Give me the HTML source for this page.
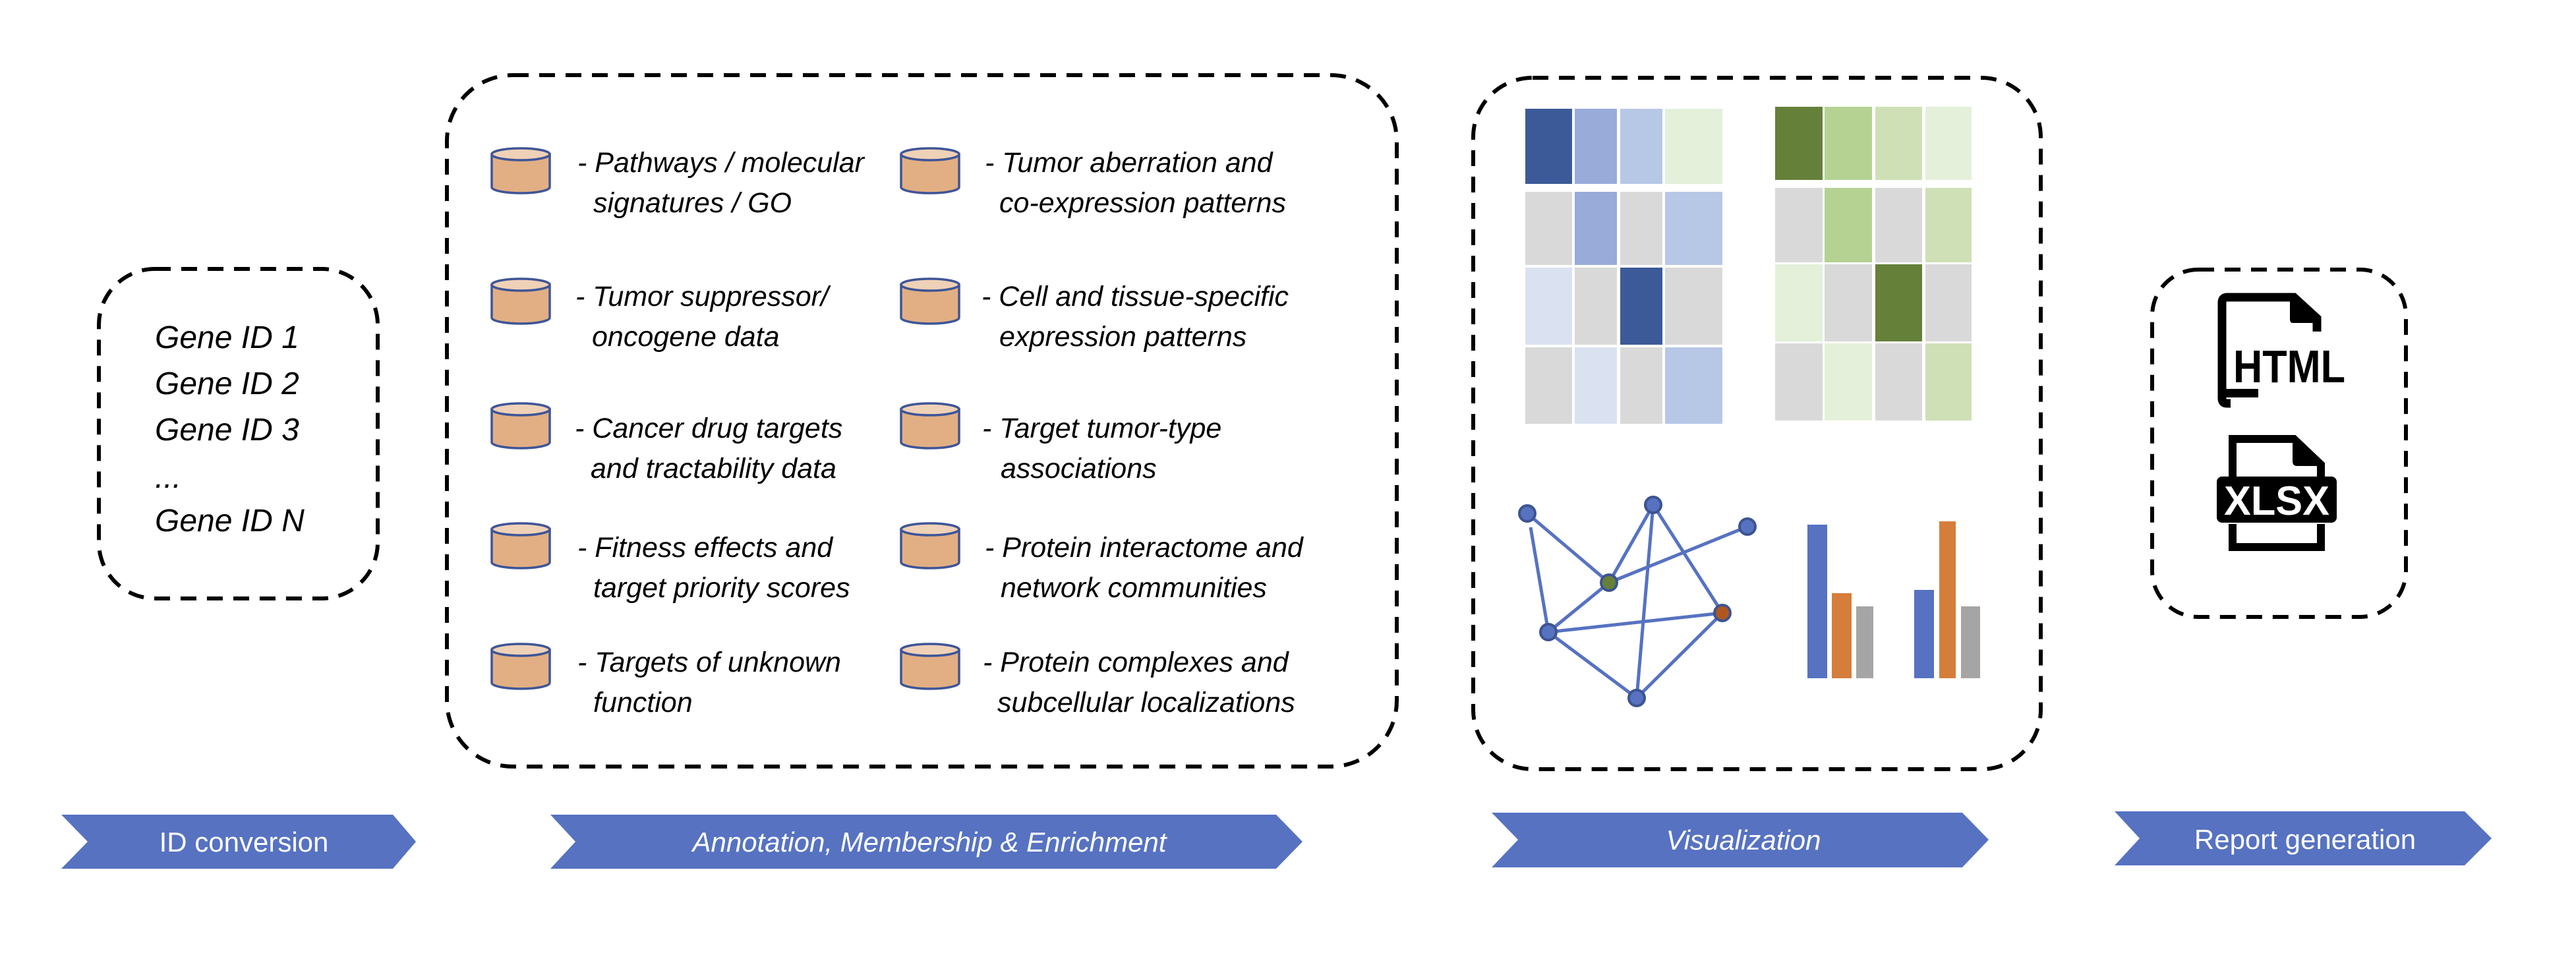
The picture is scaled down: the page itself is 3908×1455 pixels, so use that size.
<!DOCTYPE html>
<html><head><meta charset="utf-8"><style>
html,body{margin:0;padding:0;background:#fff;}
svg{display:block;}
text{font-family:"Liberation Sans",sans-serif;}
</style></head><body>
<svg width="3908" height="1455" viewBox="0 0 3908 1455" xmlns="http://www.w3.org/2000/svg">
<defs>
<g id="cyl">
<path d="M0,10 L0,60 A44,9 0 0 0 88,60 L88,10 Z" fill="#e2af84" stroke="#3f5597" stroke-width="3.5"/>
<ellipse cx="44" cy="10" rx="44" ry="9" fill="#efd1b7" stroke="#3f5597" stroke-width="3.5"/>
</g>
</defs>
<g fill="none" stroke="#000" stroke-width="6" stroke-dasharray="24 16">
<rect x="150" y="408" width="423" height="500" rx="85"/>
<rect x="678" y="114" width="1441" height="1049" rx="100"/>
<rect x="2235" y="118" width="861" height="1049" rx="90"/>
<rect x="3265" y="409" width="385" height="527" rx="70"/>
</g>
<g font-style="italic" font-size="48" fill="#000">
<text x="235" y="528">Gene ID 1</text>
<text x="235" y="598">Gene ID 2</text>
<text x="235" y="668">Gene ID 3</text>
<text x="235" y="740">...</text>
<text x="235" y="806">Gene ID N</text>
</g>
<use href="#cyl" x="746" y="224"/><use href="#cyl" x="746" y="422"/><use href="#cyl" x="746" y="611"/><use href="#cyl" x="746" y="793"/><use href="#cyl" x="746" y="976"/>
<use href="#cyl" x="1367" y="224"/><use href="#cyl" x="1367" y="422"/><use href="#cyl" x="1367" y="611"/><use href="#cyl" x="1367" y="793"/><use href="#cyl" x="1367" y="976"/>
<g font-style="italic" font-size="43" fill="#000">
<text x="876" y="261">- Pathways / molecular</text><text x="900" y="322">signatures / GO</text>
<text x="873" y="464">- Tumor suppressor/</text><text x="898" y="525">oncogene data</text>
<text x="872" y="664">- Cancer drug targets</text><text x="896" y="725">and tractability data</text>
<text x="876" y="845">- Fitness effects and</text><text x="900" y="906">target priority scores</text>
<text x="876" y="1019">- Targets of unknown</text><text x="900" y="1080">function</text>
<text x="1494" y="261">- Tumor aberration and</text><text x="1516" y="322">co-expression patterns</text>
<text x="1489" y="464">- Cell and tissue-specific</text><text x="1516" y="525">expression patterns</text>
<text x="1490" y="664">- Target tumor-type</text><text x="1518" y="725">associations</text>
<text x="1494" y="845">- Protein interactome and</text><text x="1518" y="906">network communities</text>
<text x="1491" y="1019">- Protein complexes and</text><text x="1513" y="1080">subcellular localizations</text>
</g>
<g>
<rect x="2314" y="165" width="71" height="114" fill="#3d5a98"/><rect x="2389" y="165" width="64" height="114" fill="#98abd9"/><rect x="2458" y="165" width="64" height="114" fill="#b7c7e6"/><rect x="2526" y="165" width="87" height="114" fill="#e4f0da"/>
<rect x="2314" y="291" width="71" height="111" fill="#d9d9d9"/><rect x="2389" y="291" width="64" height="111" fill="#98abd9"/><rect x="2458" y="291" width="64" height="111" fill="#d9d9d9"/><rect x="2526" y="291" width="87" height="111" fill="#b7c7e6"/>
<rect x="2314" y="406" width="71" height="117" fill="#dae2f2"/><rect x="2389" y="406" width="64" height="117" fill="#d9d9d9"/><rect x="2458" y="406" width="64" height="117" fill="#3d5a98"/><rect x="2526" y="406" width="87" height="117" fill="#d9d9d9"/>
<rect x="2314" y="527" width="71" height="116" fill="#d9d9d9"/><rect x="2389" y="527" width="64" height="116" fill="#dae2f2"/><rect x="2458" y="527" width="64" height="116" fill="#d9d9d9"/><rect x="2526" y="527" width="87" height="116" fill="#b7c7e6"/>
</g>
<g>
<rect x="2693" y="162" width="72" height="111" fill="#658039"/><rect x="2768" y="162" width="72" height="111" fill="#b5d293"/><rect x="2845" y="162" width="71" height="111" fill="#cfe0b6"/><rect x="2921" y="162" width="70" height="111" fill="#e4f0da"/>
<rect x="2693" y="285" width="72" height="113" fill="#d9d9d9"/><rect x="2768" y="285" width="72" height="113" fill="#b5d293"/><rect x="2845" y="285" width="71" height="113" fill="#d9d9d9"/><rect x="2921" y="285" width="70" height="113" fill="#cfe0b6"/>
<rect x="2693" y="401" width="72" height="117" fill="#e4f0da"/><rect x="2768" y="401" width="72" height="117" fill="#d9d9d9"/><rect x="2845" y="401" width="71" height="117" fill="#658039"/><rect x="2921" y="401" width="70" height="117" fill="#d9d9d9"/>
<rect x="2693" y="521" width="72" height="117" fill="#d9d9d9"/><rect x="2768" y="521" width="72" height="117" fill="#e4f0da"/><rect x="2845" y="521" width="71" height="117" fill="#d9d9d9"/><rect x="2921" y="521" width="70" height="117" fill="#cfe0b6"/>
</g>
<g stroke="#5672c1" stroke-width="5">
<line x1="2317" y1="779" x2="2441" y2="884"/>
<line x1="2322" y1="800" x2="2349" y2="959"/>
<line x1="2508" y1="766" x2="2441" y2="884"/>
<line x1="2508" y1="766" x2="2483" y2="1059"/>
<line x1="2508" y1="766" x2="2613" y2="930"/>
<line x1="2651" y1="799" x2="2441" y2="884"/>
<line x1="2349" y1="959" x2="2441" y2="884"/>
<line x1="2349" y1="959" x2="2613" y2="930"/>
<line x1="2349" y1="959" x2="2483" y2="1059"/>
<line x1="2483" y1="1059" x2="2613" y2="930"/>
</g>
<g stroke="#3d5491" stroke-width="4">
<circle cx="2317" cy="779" r="12" fill="#5672c1"/>
<circle cx="2508" cy="766" r="12" fill="#5672c1"/>
<circle cx="2651" cy="799" r="12" fill="#5672c1"/>
<circle cx="2441" cy="884" r="12" fill="#658039"/>
<circle cx="2613" cy="930" r="12" fill="#b0571f"/>
<circle cx="2349" cy="959" r="12" fill="#5672c1"/>
<circle cx="2483" cy="1059" r="12" fill="#5672c1"/>
</g>
<rect x="2742" y="796" width="30" height="233" fill="#5672c1"/>
<rect x="2779" y="900" width="30" height="129" fill="#d57d3b"/>
<rect x="2816" y="920" width="26" height="109" fill="#a5a5a5"/>
<rect x="2904" y="895" width="30" height="134" fill="#5672c1"/>
<rect x="2942" y="791" width="25" height="238" fill="#d57d3b"/>
<rect x="2975" y="920" width="29" height="109" fill="#a5a5a5"/>
<path d="M3384,612 L3378,612 Q3371,612 3371,604 L3371,459 Q3371,451 3379,451 L3480,451 L3515,483 L3515,503" fill="none" stroke="#000" stroke-width="13"/>
<path d="M3474,449 L3518,490 L3478,490 Q3474,490 3474,484 Z" fill="#000"/>
<rect x="3371" y="590" width="55" height="13" fill="#000"/>
<text x="3388" y="580" font-size="70" font-weight="bold" fill="#000" textLength="170" lengthAdjust="spacingAndGlyphs">HTML</text>
<path d="M3387,725 L3387,666 L3480,666 L3521,705 L3521,725 M3387,795 L3387,830 L3521,830 L3521,795" fill="none" stroke="#000" stroke-width="12"/>
<path d="M3478,664 L3524,707 L3485,707 Q3478,707 3478,700 Z" fill="#000"/>
<rect x="3363" y="723" width="182" height="70" rx="8" fill="#000"/>
<text x="3454" y="781" font-size="62" font-weight="bold" fill="#fff" text-anchor="middle" textLength="160" lengthAdjust="spacingAndGlyphs">XLSX</text>
<g fill="#5672c1">
<polygon points="93,1236 596,1236 631,1277 596,1318 93,1318 133,1277"/>
<polygon points="835,1236 1936,1236 1976,1277 1936,1318 835,1318 873,1277"/>
<polygon points="2263,1233 2977,1233 3017,1274 2977,1316 2263,1316 2303,1274"/>
<polygon points="3208,1231 3739,1231 3780,1272 3739,1313 3208,1313 3246,1272"/>
</g>
<g fill="#fff" font-size="42" text-anchor="middle">
<text x="370" y="1292">ID conversion</text>
<text x="1410" y="1292" font-style="italic">Annotation, Membership &amp; Enrichment</text>
<text x="2645" y="1289" font-style="italic">Visualization</text>
<text x="3497" y="1288">Report generation</text>
</g>
</svg>
</body></html>
